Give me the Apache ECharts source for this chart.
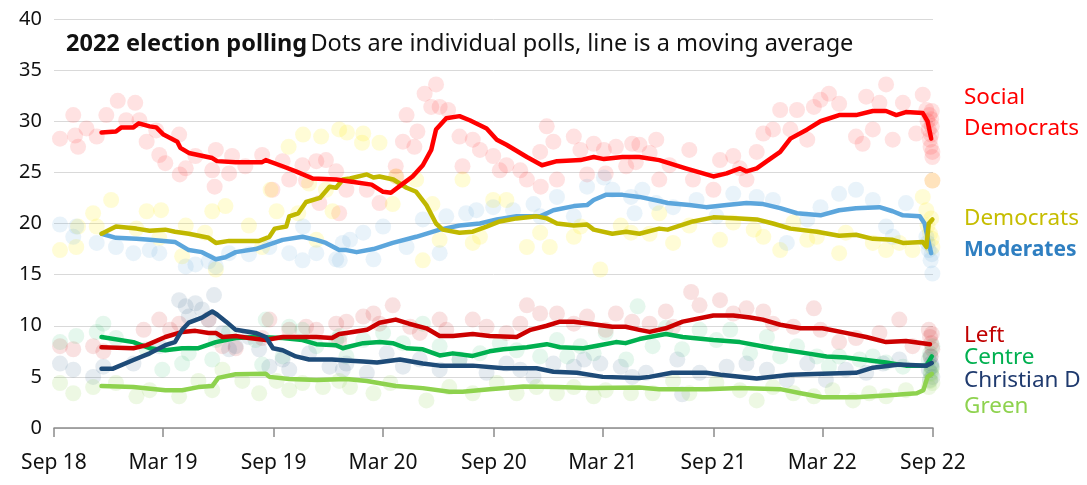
<!DOCTYPE html>
<html>
<head>
<meta charset="utf-8">
<script src="https://cdn.jsdelivr.net/npm/echarts@6/dist/echarts.min.js"></script>
<style>
html,body{margin:0;padding:0;background:#fff;}
#chart{width:1087px;height:485px;}
</style>
</head>
<body>
<div id="chart"></div>
<script>
// ---------- DATA ----------
var TICK_DATES = ['2018-09-01','2019-03-01','2019-09-01','2020-03-01','2020-09-01','2021-03-01','2021-09-01','2022-03-01','2022-09-01'];
var TICK_LABELS = ['Sep 18','Mar 19','Sep 19','Mar 20','Sep 20','Mar 21','Sep 21','Mar 22','Sep 22'];

var PARTY_NAMES = ['Social Democrats','Democrats','Moderates','Left','Centre','Christian D','Green'];

// moving averages
var SD_LINE = [['2018-11-19',28.9],['2018-12-13',29.0],['2018-12-22',29.4],['2019-01-11',29.4],['2019-01-20',29.8],['2019-02-07',29.5],['2019-02-18',29.4],['2019-03-02',28.7],['2019-03-25',28.0],['2019-03-30',27.4],['2019-04-13',26.9],['2019-05-22',26.4],['2019-05-30',26.1],['2019-06-30',26.0],['2019-08-13',26.0],['2019-08-19',26.2],['2019-09-16',25.6],['2019-10-08',25.1],['2019-11-05',24.4],['2019-12-14',24.3],['2020-01-06',24.1],['2020-02-11',23.8],['2020-03-01',23.1],['2020-03-14',23.0],['2020-04-03',23.9],['2020-04-19',24.6],['2020-05-06',25.7],['2020-05-20',27.2],['2020-05-28',29.2],['2020-06-14',30.3],['2020-07-06',30.5],['2020-07-23',30.1],['2020-08-20',29.3],['2020-09-06',28.2],['2020-09-22',27.7],['2020-10-26',26.5],['2020-11-20',25.7],['2020-12-15',26.1],['2021-01-23',26.2],['2021-02-14',26.5],['2021-03-03',26.3],['2021-04-03',26.5],['2021-05-01',26.5],['2021-06-03',26.2],['2021-07-17',25.4],['2021-09-01',24.6],['2021-09-23',24.9],['2021-10-15',25.4],['2021-10-26',25.1],['2021-11-12',25.4],['2021-11-29',26.1],['2021-12-21',27.0],['2022-01-07',28.3],['2022-02-04',29.2],['2022-02-26',30.0],['2022-03-29',30.6],['2022-04-26',30.6],['2022-05-24',31.0],['2022-06-15',31.0],['2022-07-02',30.6],['2022-07-18',30.9],['2022-08-15',30.8],['2022-08-23',30.0],['2022-08-29',28.3]];
var DEM_LINE = [['2018-11-19',19.0],['2018-12-13',19.7],['2019-01-16',19.5],['2019-02-07',19.3],['2019-03-05',19.4],['2019-03-21',19.2],['2019-04-13',19.0],['2019-05-16',18.6],['2019-05-28',18.1],['2019-06-19',18.3],['2019-08-08',18.3],['2019-08-25',18.7],['2019-09-03',19.5],['2019-09-22',19.7],['2019-09-27',20.7],['2019-10-12',21.0],['2019-10-25',22.1],['2019-11-17',22.5],['2019-12-03',23.6],['2019-12-14',23.5],['2019-12-25',24.3],['2020-01-06',24.4],['2020-02-03',24.8],['2020-02-14',24.5],['2020-02-24',24.6],['2020-03-18',24.3],['2020-04-09',23.5],['2020-04-25',23.1],['2020-05-12',21.8],['2020-05-28',20.0],['2020-06-08',19.4],['2020-07-06',19.1],['2020-07-28',19.2],['2020-08-20',19.7],['2020-09-11',20.2],['2020-10-09',20.5],['2020-11-11',20.7],['2020-11-28',20.5],['2020-12-15',20.0],['2021-01-12',19.8],['2021-02-03',19.9],['2021-02-14',19.4],['2021-03-17',19.0],['2021-04-09',19.2],['2021-05-01',19.0],['2021-06-03',19.5],['2021-06-17',19.4],['2021-07-29',20.2],['2021-09-01',20.6],['2021-10-15',20.5],['2021-11-12',20.4],['2021-12-09',20.0],['2022-01-07',19.5],['2022-02-20',19.2],['2022-03-29',18.8],['2022-04-26',18.9],['2022-05-24',18.5],['2022-06-26',18.4],['2022-07-13',18.1],['2022-08-15',18.2],['2022-08-21',17.7],['2022-08-25',20.0],['2022-08-31',20.4]];
var MOD_LINE = [['2018-11-19',19.0],['2018-12-13',18.6],['2019-01-16',18.5],['2019-02-07',18.4],['2019-03-21',18.2],['2019-04-13',17.4],['2019-05-05',17.2],['2019-05-28',16.5],['2019-06-13',16.7],['2019-06-30',17.2],['2019-08-02',17.5],['2019-09-16',18.4],['2019-10-19',18.7],['2019-11-11',18.4],['2019-11-27',18.1],['2019-12-19',17.4],['2019-12-31',17.4],['2020-01-17',17.2],['2020-02-14',17.5],['2020-03-17',18.1],['2020-04-25',18.7],['2020-06-03',19.4],['2020-07-06',19.8],['2020-08-09',20.0],['2020-09-06',20.4],['2020-10-09',20.7],['2020-11-17',20.7],['2020-12-09',21.3],['2021-01-12',21.7],['2021-02-03',21.8],['2021-02-14',22.3],['2021-03-06',22.8],['2021-04-03',22.8],['2021-05-01',22.6],['2021-06-03',22.2],['2021-06-17',22.0],['2021-07-23',21.8],['2021-08-20',21.6],['2021-09-23',21.8],['2021-10-26',22.0],['2021-11-23',21.9],['2021-12-21',21.5],['2022-01-18',21.0],['2022-02-26',20.8],['2022-03-29',21.3],['2022-04-26',21.5],['2022-06-04',21.6],['2022-06-26',21.2],['2022-07-13',20.8],['2022-08-10',20.7],['2022-08-18',20.0],['2022-08-25',18.1],['2022-08-29',17.1]];
var LEFT_LINE = [['2018-11-19',7.9],['2019-01-11',7.8],['2019-02-02',8.1],['2019-03-05',8.9],['2019-04-02',9.4],['2019-04-24',9.5],['2019-05-16',9.3],['2019-05-28',9.3],['2019-06-08',8.9],['2019-06-30',9.0],['2019-07-22',8.8],['2019-08-19',8.6],['2019-09-16',8.9],['2019-11-11',8.9],['2019-12-07',8.8],['2019-12-19',9.2],['2019-12-31',9.3],['2020-02-03',9.6],['2020-02-24',10.3],['2020-03-22',10.6],['2020-04-13',10.2],['2020-05-12',9.75],['2020-06-03',9.0],['2020-06-25',9.0],['2020-07-28',9.2],['2020-08-25',9.0],['2020-10-09',8.9],['2020-11-01',9.6],['2020-11-28',10.0],['2020-12-20',10.4],['2021-01-12',10.4],['2021-02-07',10.2],['2021-03-17',9.9],['2021-04-08',9.9],['2021-05-01',9.6],['2021-05-18',9.4],['2021-06-14',9.75],['2021-07-12',10.4],['2021-09-01',11.0],['2021-10-04',11.0],['2021-11-01',10.8],['2021-11-22',10.6],['2021-12-21',10.1],['2022-01-24',9.75],['2022-03-01',9.75],['2022-04-09',9.3],['2022-05-13',8.9],['2022-06-15',8.4],['2022-07-18',8.5],['2022-08-27',8.2]];
var CEN_LINE = [['2018-11-19',8.9],['2019-01-11',8.4],['2019-02-07',7.8],['2019-03-05',7.6],['2019-04-02',7.8],['2019-04-29',7.8],['2019-05-28',8.4],['2019-06-30',8.8],['2019-08-02',8.9],['2019-09-16',8.8],['2019-10-19',8.6],['2019-11-11',8.2],['2019-12-14',8.1],['2019-12-25',7.8],['2019-12-31',7.9],['2020-01-28',8.3],['2020-02-24',8.4],['2020-03-17',8.3],['2020-04-09',7.8],['2020-05-06',7.7],['2020-06-03',7.1],['2020-06-25',7.3],['2020-07-28',7.05],['2020-08-25',7.5],['2020-09-17',7.7],['2020-10-26',7.9],['2020-11-28',8.2],['2020-12-20',7.9],['2021-01-28',7.8],['2021-02-24',8.1],['2021-03-23',8.4],['2021-04-08',8.3],['2021-05-01',8.7],['2021-05-18',8.9],['2021-06-14',9.2],['2021-07-12',8.9],['2021-09-01',8.6],['2021-10-15',8.4],['2021-12-09',7.8],['2022-02-04',7.3],['2022-03-08',7.0],['2022-04-09',6.9],['2022-05-13',6.65],['2022-06-15',6.4],['2022-07-18',6.1],['2022-08-21',6.1],['2022-08-30',7.0]];
var CHD_LINE = [['2018-11-19',5.8],['2018-12-08',5.8],['2019-01-11',6.65],['2019-02-07',7.3],['2019-03-05',8.1],['2019-03-21',8.4],['2019-04-02',9.6],['2019-04-13',10.3],['2019-05-05',10.8],['2019-05-22',11.4],['2019-05-30',11.1],['2019-06-14',10.4],['2019-06-30',9.6],['2019-08-02',9.3],['2019-08-19',8.9],['2019-08-31',7.8],['2019-09-16',7.6],['2019-10-08',7.0],['2019-10-30',6.7],['2019-12-07',6.7],['2019-12-31',6.6],['2020-01-28',6.5],['2020-02-20',6.4],['2020-03-29',6.7],['2020-05-06',6.3],['2020-06-03',6.1],['2020-07-28',6.1],['2020-09-17',5.85],['2020-11-11',5.85],['2020-12-09',5.5],['2021-01-17',5.4],['2021-03-01',5.0],['2021-05-01',4.9],['2021-05-18',5.0],['2021-06-24',5.4],['2021-08-20',5.4],['2021-09-13',5.2],['2021-11-12',4.85],['2022-01-07',5.2],['2022-03-01',5.3],['2022-04-26',5.4],['2022-05-24',5.9],['2022-07-07',6.2],['2022-08-21',6.1],['2022-08-30',6.35]];
var GRN_LINE = [['2018-11-19',4.1],['2019-01-11',4.0],['2019-03-05',3.7],['2019-04-02',3.7],['2019-04-29',4.0],['2019-05-22',4.1],['2019-06-01',4.9],['2019-06-30',5.25],['2019-08-19',5.3],['2019-08-25',5.0],['2019-09-27',4.8],['2019-11-11',4.7],['2019-12-31',4.8],['2020-02-03',4.6],['2020-03-22',4.1],['2020-05-06',3.9],['2020-06-19',3.55],['2020-07-11',3.55],['2020-08-25',3.8],['2020-10-20',4.05],['2020-12-15',4.0],['2021-02-07',3.9],['2021-05-01',3.95],['2021-06-03',3.8],['2021-08-20',3.8],['2021-10-15',3.9],['2021-12-21',3.8],['2022-01-24',3.4],['2022-03-01',3.0],['2022-04-26',3.0],['2022-06-20',3.2],['2022-08-05',3.4],['2022-08-16',3.7],['2022-08-23',5.0],['2022-08-30',5.3]];

// individual polls
var SD_POLLS = [['2018-09-11',28.3],['2018-10-03',30.6],['2018-10-06',28.6],['2018-10-11',27.5],['2018-10-25',29.3],['2018-11-11',28.5],['2018-11-27',30.6],['2018-12-16',32.0],['2018-12-30',30.1],['2019-01-14',31.8],['2019-01-21',30.1],['2019-02-02',28.0],['2019-02-18',29.1],['2019-02-23',26.7],['2019-03-05',25.9],['2019-03-28',28.7],['2019-03-29',24.8],['2019-04-08',25.4],['2019-04-24',26.6],['2019-05-22',25.2],['2019-05-26',23.6],['2019-05-28',27.2],['2019-06-19',24.9],['2019-06-24',26.6],['2019-07-16',25.6],['2019-08-13',26.7],['2019-08-30',23.3],['2019-09-16',26.1],['2019-09-27',24.3],['2019-10-19',25.7],['2019-10-25',24.2],['2019-11-11',26.1],['2019-11-16',22.0],['2019-11-27',26.2],['2019-12-14',25.1],['2019-12-19',21.0],['2019-12-31',23.3],['2020-02-03',23.3],['2020-02-24',22.0],['2020-03-22',25.6],['2020-03-23',24.6],['2020-04-03',28.0],['2020-04-09',30.6],['2020-04-22',27.5],['2020-04-27',29.0],['2020-05-09',32.7],['2020-05-20',31.4],['2020-05-28',33.6],['2020-06-03',31.4],['2020-06-17',31.1],['2020-07-06',28.5],['2020-07-11',25.6],['2020-07-28',28.2],['2020-08-09',27.2],['2020-08-31',26.6],['2020-09-11',25.2],['2020-09-22',25.7],['2020-10-15',25.2],['2020-10-26',24.3],['2020-11-17',27.0],['2020-11-18',23.6],['2020-11-28',29.5],['2020-12-09',28.0],['2020-12-15',24.3],['2021-01-12',28.5],['2021-01-23',27.2],['2021-02-03',24.8],['2021-02-14',27.8],['2021-03-03',27.2],['2021-03-06',24.9],['2021-03-23',27.5],['2021-04-09',25.6],['2021-04-19',27.8],['2021-04-25',26.0],['2021-05-01',27.7],['2021-05-18',26.9],['2021-05-29',28.2],['2021-06-03',24.3],['2021-06-20',25.7],['2021-07-23',27.2],['2021-07-29',24.3],['2021-09-01',23.3],['2021-09-12',26.2],['2021-10-04',26.6],['2021-10-15',25.4],['2021-10-26',24.3],['2021-11-12',27.0],['2021-11-23',28.8],['2021-12-09',29.2],['2021-12-21',31.1],['2022-01-07',29.2],['2022-01-18',31.1],['2022-02-04',28.2],['2022-02-15',31.4],['2022-02-26',32.1],['2022-03-12',32.7],['2022-03-29',31.7],['2022-04-26',28.5],['2022-05-07',27.8],['2022-05-13',32.4],['2022-05-24',29.2],['2022-06-04',31.8],['2022-06-15',33.6],['2022-06-26',28.2],['2022-07-13',31.8],['2022-08-04',28.8],['2022-08-15',32.6],['2022-08-21',31.1],['2022-08-23',30.0],['2022-08-25',29.2],['2022-08-26',30.6],['2022-08-27',28.2],['2022-08-28',27.5],['2022-08-29',28.7],['2022-08-29',30.2],['2022-08-30',29.5],['2022-08-30',31.0],['2022-08-31',26.5],['2022-08-31',27.0],['2022-08-31',24.2]];
var DEM_POLLS = [['2018-09-11',17.4],['2018-10-08',17.7],['2018-10-11',19.7],['2018-11-05',21.0],['2018-11-11',19.7],['2018-12-05',22.3],['2019-01-16',19.5],['2019-02-02',21.2],['2019-02-23',18.6],['2019-02-26',21.3],['2019-04-02',16.8],['2019-04-08',19.8],['2019-05-10',19.1],['2019-05-22',21.2],['2019-05-28',15.5],['2019-06-13',21.7],['2019-07-22',19.8],['2019-08-13',17.7],['2019-08-27',23.3],['2019-09-06',21.2],['2019-09-26',27.5],['2019-10-12',21.0],['2019-10-20',28.7],['2019-10-30',23.9],['2019-11-11',18.4],['2019-11-19',28.5],['2019-11-27',23.3],['2019-12-08',21.2],['2019-12-19',29.2],['2020-01-01',28.9],['2020-01-26',27.9],['2020-01-28',28.8],['2020-02-24',27.9],['2020-03-17',21.9],['2020-03-22',24.6],['2020-04-25',24.3],['2020-05-06',16.4],['2020-05-22',21.9],['2020-06-03',18.4],['2020-07-11',24.3],['2020-07-28',18.1],['2020-08-09',18.7],['2020-08-31',22.3],['2020-09-22',22.3],['2020-10-26',17.7],['2020-11-17',19.1],['2020-12-03',17.7],['2021-01-12',18.7],['2021-01-23',19.7],['2021-02-25',15.5],['2021-03-31',19.8],['2021-04-17',19.1],['2021-05-18',19.0],['2021-06-03',21.0],['2021-06-26',18.1],['2021-07-23',19.8],['2021-09-12',18.4],['2021-10-04',20.1],['2021-11-07',19.4],['2021-11-23',18.7],['2021-12-21',17.4],['2022-01-12',20.1],['2022-02-04',18.4],['2022-02-20',18.7],['2022-03-29',17.1],['2022-04-09',19.1],['2022-05-24',18.1],['2022-06-15',17.4],['2022-07-07',18.1],['2022-07-29',17.4],['2022-08-15',22.6],['2022-08-21',21.3],['2022-08-23',19.8],['2022-08-27',19.0],['2022-08-29',20.5],['2022-08-30',18.5],['2022-08-31',17.7],['2022-08-31',24.2]];
var MOD_POLLS = [['2018-09-11',19.9],['2018-10-03',18.7],['2018-10-08',19.7],['2018-11-11',18.1],['2018-12-13',17.7],['2019-01-11',17.1],['2019-02-07',17.4],['2019-02-23',17.1],['2019-04-08',15.8],['2019-04-24',16.0],['2019-05-16',16.3],['2019-05-28',15.8],['2019-06-19',17.1],['2019-07-22',17.0],['2019-08-25',17.7],['2019-09-27',17.1],['2019-10-19',16.4],['2019-10-20',19.7],['2019-11-11',17.1],['2019-12-14',16.5],['2019-12-20',16.4],['2019-12-25',18.1],['2020-01-06',18.4],['2020-01-28',19.1],['2020-02-14',16.5],['2020-03-01',19.7],['2020-04-09',17.7],['2020-05-06',20.4],['2020-06-03',17.1],['2020-06-14',20.7],['2020-07-17',21.0],['2020-08-03',21.3],['2020-08-31',21.6],['2020-10-03',21.3],['2020-11-06',21.9],['2020-11-17',20.7],['2020-12-15',22.6],['2021-01-12',20.7],['2021-02-03',23.6],['2021-03-03',24.5],['2021-03-17',23.3],['2021-04-17',22.6],['2021-04-23',21.0],['2021-05-06',23.3],['2021-05-29',22.0],['2021-06-26',21.6],['2021-08-04',22.3],['2021-09-06',20.7],['2021-10-04',22.9],['2021-11-12',22.6],['2021-12-09',22.3],['2022-01-01',18.1],['2022-02-04',20.4],['2022-02-26',21.6],['2022-03-29',22.9],['2022-04-26',23.3],['2022-05-24',22.3],['2022-06-15',19.7],['2022-06-26',18.7],['2022-07-18',22.0],['2022-08-21',18.7],['2022-08-23',18.1],['2022-08-25',17.4],['2022-08-28',16.4],['2022-08-30',17.0],['2022-08-31',15.1]];
var LEFT_POLLS = [['2018-09-11',8.0],['2018-10-03',7.7],['2018-11-05',8.0],['2018-11-22',7.5],['2019-01-28',9.6],['2019-02-23',10.6],['2019-03-13',9.6],['2019-03-28',10.2],['2019-05-16',10.6],['2019-06-08',8.0],['2019-06-30',7.8],['2019-08-13',8.8],['2019-08-25',10.6],['2019-09-27',9.6],['2019-10-25',9.9],['2019-11-11',9.6],['2019-12-14',10.2],['2019-12-19',8.5],['2019-12-31',10.4],['2020-01-28',10.9],['2020-02-14',11.2],['2020-02-24',10.2],['2020-03-17',12.0],['2020-04-15',9.9],['2020-05-01',9.3],['2020-06-03',10.6],['2020-06-14',9.6],['2020-07-28',10.6],['2020-08-20',9.9],['2020-09-22',9.3],['2020-10-15',10.2],['2020-10-26',12.0],['2020-11-17',11.2],['2020-12-15',11.2],['2021-01-12',10.2],['2021-02-03',10.9],['2021-03-06',9.6],['2021-03-23',11.2],['2021-04-19',10.4],['2021-05-18',10.2],['2021-06-14',11.4],['2021-06-26',9.9],['2021-07-26',13.3],['2021-08-09',12.0],['2021-09-12',12.5],['2021-10-04',11.2],['2021-10-26',11.7],['2021-11-23',11.4],['2021-12-09',10.2],['2022-01-12',9.9],['2022-02-15',11.7],['2022-02-26',9.6],['2022-03-29',8.4],['2022-04-26',8.8],['2022-06-04',9.3],['2022-07-07',10.6],['2022-07-29',8.0],['2022-08-25',9.6],['2022-08-27',8.9],['2022-08-28',7.0],['2022-08-29',8.3],['2022-08-30',9.2],['2022-08-31',7.7]];
var CEN_POLLS = [['2018-09-11',8.4],['2018-10-08',9.0],['2018-11-11',9.4],['2018-11-22',10.2],['2018-12-13',8.8],['2019-02-02',7.7],['2019-02-28',5.7],['2019-04-02',6.3],['2019-04-13',7.3],['2019-05-22',6.7],['2019-05-28',8.6],['2019-06-19',9.4],['2019-08-02',8.6],['2019-08-13',6.2],['2019-08-19',10.6],['2019-09-16',7.0],['2019-09-27',9.9],['2019-10-19',9.6],['2019-11-11',8.0],['2019-12-14',8.6],['2019-12-20',9.0],['2019-12-31',7.0],['2020-01-28',8.6],['2020-03-01',9.3],['2020-04-03',8.3],['2020-05-06',10.2],['2020-06-03',8.0],['2020-07-06',6.7],['2020-08-09',7.3],['2020-09-11',8.3],['2020-10-09',7.6],['2020-11-17',7.0],['2020-12-15',8.6],['2021-01-01',7.0],['2021-01-23',8.0],['2021-02-14',7.3],['2021-03-06',9.3],['2021-04-09',6.7],['2021-04-28',11.9],['2021-05-23',8.0],['2021-06-14',9.8],['2021-07-11',7.7],['2021-08-09',9.6],['2021-09-06',8.6],['2021-09-29',9.6],['2021-11-01',7.3],['2021-11-29',8.9],['2021-12-21',7.0],['2022-01-18',8.0],['2022-02-20',7.0],['2022-03-12',6.0],['2022-03-29',7.0],['2022-05-02',6.7],['2022-05-24',7.0],['2022-06-15',6.4],['2022-07-13',6.0],['2022-08-25',6.7],['2022-08-27',7.3],['2022-08-28',5.4],['2022-08-29',6.0],['2022-08-31',8.0]];
var CHD_POLLS = [['2018-09-11',6.3],['2018-10-03',5.7],['2018-11-05',5.0],['2018-11-22',6.0],['2019-01-11',6.3],['2019-02-23',8.0],['2019-03-28',12.5],['2019-04-08',11.9],['2019-04-13',10.9],['2019-04-24',12.2],['2019-05-05',11.6],['2019-05-16',10.6],['2019-05-25',13.0],['2019-06-08',9.3],['2019-06-19',7.7],['2019-06-30',8.0],['2019-07-22',8.9],['2019-08-08',7.7],['2019-08-25',6.0],['2019-09-16',6.7],['2019-09-27',5.7],['2019-10-30',7.3],['2019-12-03',6.0],['2019-12-25',5.7],['2019-12-31',6.3],['2020-02-03',5.4],['2020-03-07',7.3],['2020-04-03',6.0],['2020-05-01',6.7],['2020-06-03',5.7],['2020-07-06',6.7],['2020-08-20',5.4],['2020-09-22',6.3],['2020-10-15',5.7],['2020-11-06',5.0],['2020-12-09',6.3],['2021-01-12',6.0],['2021-01-29',6.7],['2021-02-25',6.3],['2021-03-31',6.0],['2021-04-19',5.0],['2021-05-12',5.4],['2021-07-03',6.7],['2021-07-11',3.3],['2021-08-09',5.4],['2021-09-23',6.0],['2021-10-26',6.3],['2021-11-29',5.7],['2022-01-01',4.7],['2022-02-04',6.3],['2022-03-07',4.7],['2022-04-09',5.7],['2022-05-13',5.4],['2022-06-10',6.3],['2022-07-07',6.7],['2022-08-25',5.7],['2022-08-27',4.7],['2022-08-28',7.0],['2022-08-29',6.3],['2022-08-30',6.0],['2022-08-31',5.0]];
var GRN_POLLS = [['2018-09-11',4.4],['2018-10-03',3.4],['2018-11-05',4.0],['2018-12-13',4.4],['2019-01-16',3.1],['2019-02-07',3.7],['2019-03-28',3.1],['2019-04-29',4.6],['2019-05-22',3.7],['2019-06-08',5.7],['2019-07-11',4.6],['2019-08-08',3.4],['2019-09-06',4.6],['2019-09-27',3.7],['2019-10-19',4.4],['2019-11-22',4.0],['2019-12-19',4.6],['2020-01-06',4.0],['2020-02-14',3.4],['2020-03-13',4.4],['2020-05-12',2.7],['2020-06-19',4.0],['2020-07-28',3.4],['2020-09-06',4.4],['2020-10-09',3.4],['2020-11-11',4.0],['2020-12-15',3.4],['2021-01-12',4.0],['2021-02-14',3.1],['2021-03-06',3.7],['2021-04-17',3.4],['2021-05-23',3.4],['2021-06-26',4.6],['2021-07-23',3.4],['2021-09-06',4.4],['2021-10-15',3.7],['2021-11-12',2.7],['2021-12-09',4.0],['2022-01-12',3.4],['2022-02-15',3.1],['2022-03-18',3.7],['2022-04-21',2.7],['2022-05-18',3.4],['2022-06-15',3.1],['2022-07-18',3.7],['2022-08-25',4.0],['2022-08-27',4.6],['2022-08-29',5.3],['2022-08-30',5.8],['2022-08-31',4.4]];

// ---------- STYLE ----------
var FONT = '"Noto Sans", "Open Sans", sans-serif';
var LINE_COLORS = ['#ff0000','#c0b800','#5ca6dc','#cc0000','#00b050','#1e4b78','#8ed24e'];
var DOT_COLORS = ['rgba(255,40,40,0.17)','rgba(255,238,0,0.2)','rgba(92,166,220,0.17)','rgba(204,0,0,0.15)','rgba(0,176,80,0.13)','rgba(30,75,120,0.14)','rgba(142,210,78,0.2)'];
var LABEL_COLORS = ['#ff0000','#c6bd00','#2f7fc1','#c00000','#00b050','#1f3a6e','#8ed24e'];

var LINES = [SD_LINE, DEM_LINE, MOD_LINE, LEFT_LINE, CEN_LINE, CHD_LINE, GRN_LINE];
var POLLS = [SD_POLLS, DEM_POLLS, MOD_POLLS, LEFT_POLLS, CEN_POLLS, CHD_POLLS, GRN_POLLS];

function ts(d){ return new Date(d + 'T00:00:00').getTime(); }
function toXY(arr){ return arr.map(function(p){ return [ts(p[0]), p[1]]; }); }
var tickTs = TICK_DATES.map(ts);

var series = [];
POLLS.forEach(function(p, i){
  series.push({
    name: PARTY_NAMES[i] + ' polls', type: 'scatter', data: toXY(p),
    symbolSize: 16, clip: false, silent: true, z: 1,
    itemStyle: { color: DOT_COLORS[i] }
  });
});
var LINE_ORDER = [6, 4, 3, 5, 2, 1, 0];
LINE_ORDER.forEach(function(i, k){
  series.push({
    name: PARTY_NAMES[i], type: 'line', data: toXY(LINES[i]),
    showSymbol: false, symbol: 'none', smooth: false, silent: true, z: 3 + k,
    lineStyle: { color: LINE_COLORS[i], width: 4.5, cap: 'round', join: 'round' }
  });
});

var labelPos = [
  { text: 'Social\nDemocrats', y: 82, i: 0 },
  { text: 'Democrats', y: 203, i: 1 },
  { text: 'Moderates', y: 235, i: 2, bold: true },
  { text: 'Left', y: 320, i: 3 },
  { text: 'Centre', y: 342, i: 4 },
  { text: 'Christian D', y: 365, i: 5 },
  { text: 'Green', y: 391, i: 6 }
];
var graphics = labelPos.map(function(l){
  return { type: 'text', left: 964, top: l.y, z: 20,
    style: { text: l.text, fill: LABEL_COLORS[l.i], font: (l.bold ? 'bold ' : '') + (l.bold ? '21px ' : '22.5px ') + FONT, lineHeight: 31 } };
});
graphics.push({
  type: 'text', left: 66, top: 32, z: 20,
  style: {
    text: '{b|2022 election polling} {n|Dots are individual polls, line is a moving average}',
    rich: {
      b: { font: 'bold 23.5px ' + FONT, fill: '#111' },
      n: { font: '23.5px ' + FONT, fill: '#111' }
    }
  }
});

var chart = echarts.init(document.getElementById('chart'), null, { renderer: 'canvas' });
chart.setOption({
  animation: false,
  backgroundColor: '#fff',
  grid: { left: 54, right: 154, top: 19, bottom: 57, containLabel: false },
  xAxis: {
    type: 'value', min: tickTs[0], max: tickTs[tickTs.length - 1],
    axisLine: { show: true, lineStyle: { color: '#8c8c8c', width: 1.5 } },
    axisTick: { show: true, length: 9, lineStyle: { color: '#8c8c8c', width: 1.5 }, customValues: tickTs },
    axisLabel: {
      customValues: tickTs, margin: 25, color: '#111', fontSize: 21, fontFamily: FONT,
      formatter: function(v){ var k = -1; for (var j = 0; j < tickTs.length; j++) if (Math.abs(tickTs[j] - v) < 86400000) k = j; return k >= 0 ? TICK_LABELS[k] : ''; }
    },
    splitLine: { show: false }
  },
  yAxis: {
    type: 'value', min: 0, max: 40, interval: 5,
    axisLine: { show: false }, axisTick: { show: false },
    axisLabel: { margin: 12, color: '#111', fontSize: 20, fontFamily: FONT },
    splitLine: { lineStyle: { color: '#d9d9d9', width: 1 } }
  },
  graphic: graphics,
  series: series
});
</script>
</body>
</html>
